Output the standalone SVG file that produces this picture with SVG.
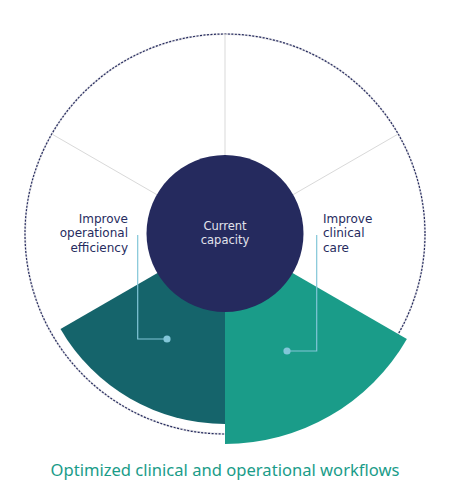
<svg xmlns="http://www.w3.org/2000/svg" width="450" height="490" viewBox="0 0 450 490">
<style>
.spoke{stroke:#d9d9d9;stroke-width:1;fill:none}
.lbl{font-family:"DejaVu Sans","Liberation Sans",sans-serif;font-size:12px;fill:#262b5e}
.ctr{font-family:"DejaVu Sans","Liberation Sans",sans-serif;font-size:11.5px;fill:#e2e3ec;text-anchor:middle}
.conn{stroke:#82c6d8;stroke-width:1.2;fill:none}
.dot{fill:#82c6d8}
</style>
<rect width="450" height="490" fill="#ffffff"/>
<g id="ring">
<circle cx="225" cy="234" r="200" fill="none" stroke="#e4e4e8" stroke-width="2"/>
<circle cx="225" cy="234" r="200" fill="none" stroke="#262b5e" stroke-width="1.2" stroke-dasharray="2 1.5"/>
</g>
<g id="spokes">
<line class="spoke" x1="225" y1="234" x2="225" y2="34"/>
<line class="spoke" x1="225" y1="234" x2="51.8" y2="134"/>
<line class="spoke" x1="225" y1="234" x2="398.2" y2="134"/>
</g>
<g id="sector-operational">
<path d="M225,234 L225,424 A190,190 0 0 1 60.5,329 Z" fill="#15646b"/>
</g>
<g id="sector-clinical">
<path d="M225,234 L406.9,339 A210,210 0 0 1 225,444 Z" fill="#1a9c89"/>
</g>
<g id="current-capacity">
<circle cx="225" cy="233.5" r="78.5" fill="#252a5e"/>
<text class="ctr" x="225" y="229.5">Current</text>
<text class="ctr" x="225" y="243.5">capacity</text>
</g>
<g id="connectors">
<polyline class="conn" points="137.7,235 137.7,339 167,339"/>
<circle class="dot" cx="167" cy="339" r="3.6"/>
<polyline class="conn" points="316.7,235 316.7,351 287,351"/>
<circle class="dot" cx="287" cy="351" r="3.6"/>
</g>
<g id="label-operational">
<text class="lbl" x="128" y="222.5" text-anchor="end">Improve</text>
<text class="lbl" x="128" y="237" text-anchor="end">operational</text>
<text class="lbl" x="128" y="251.5" text-anchor="end">efficiency</text>
</g>
<g id="label-clinical">
<text class="lbl" x="323" y="222.5">Improve</text>
<text class="lbl" x="323" y="237">clinical</text>
<text class="lbl" x="323" y="251.5">care</text>
</g>
<g id="title">
<text x="225" y="476" text-anchor="middle" font-family="'Noto Sans','Liberation Sans',sans-serif" font-size="17px" fill="#1a9c89" textLength="349" lengthAdjust="spacingAndGlyphs">Optimized clinical and operational workflows</text>
</g>
</svg>
